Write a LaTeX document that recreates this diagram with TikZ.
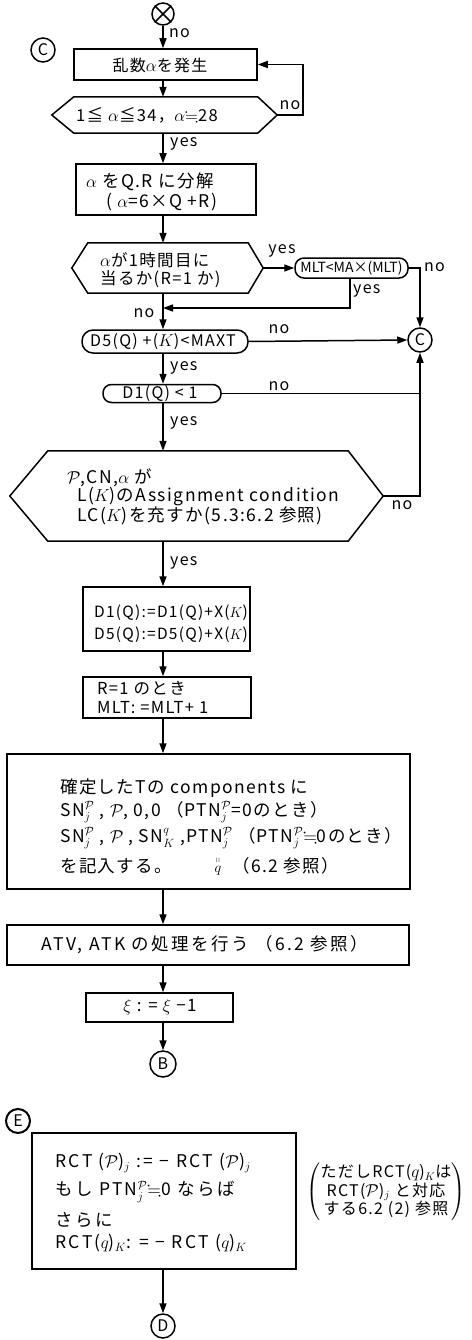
\documentclass[tikz,border=0pt]{standalone}
\usepackage{amsmath,amssymb}
\usepackage{fontspec}
\setmainfont{Noto Sans CJK JP}[LetterSpace=8]
\usetikzlibrary{arrows.meta}
\newcommand{\cP}{\mathcal{P}}
\newcommand{\apeq}{$\fallingdotseq$}
\begin{document}
\begin{tikzpicture}[x=1pt,y=-1pt]
\tikzset{
  ln/.style={line width=1.5pt},
  arr/.style={ln,-{Triangle[length=10pt,width=7pt]}},
  shp/.style={draw,ln,inner sep=0pt},
  conn/.style={draw,ln,circle,inner sep=0pt,minimum size=24pt,font=\fontsize{16}{16}\selectfont},
  tx/.style={inner sep=0pt,font=\fontsize{#1}{#1}\selectfont},
  tx/.default=16,
  tw/.style={tx=#1,anchor=west},
  tw/.default=16,
  lab/.style={inner sep=0pt,font=\fontsize{16}{16}\selectfont},
}
\useasboundingbox (0,0) rectangle (471,1340);

% start / connectors
\node[conn,minimum size=22pt] (top) at (163,14) {};
\draw[ln] (top.north west) -- (top.south east) (top.north east) -- (top.south west);
\node[conn] (cl) at (43,50) {C};

% box1
\node[shp,minimum width=183pt,minimum height=31pt] (b1) at (165.5,64.5) {};
\node[tx=16] (b1t) at (160,65) {乱数$\alpha$を発生};

% hex1
\node[minimum width=183.5pt,minimum height=36pt,inner sep=0pt] (h1) at (165.75,115) {};
\coordinate (h1L) at ([xshift=-22pt]h1.west);
\coordinate (h1R) at ([xshift=19.5pt]h1.east);
\draw[ln] (h1.north west) -- (h1.north east) -- (h1R) -- (h1.south east) -- (h1.south west) -- (h1L) -- cycle;
\node[tw=16.5] (h1t) at (76,115) {1≦ $\alpha$≦34，$\alpha$\apeq 28};

% box2
\node[shp,minimum width=180pt,minimum height=51pt] (b2) at (166,189.5) {};
\node[tw=17.5] (b2t1) at (86,182) {$\alpha$ をQ.R に分解};
\node[tw=17.5] (b2t2) at (106,202) {( $\alpha$=6×Q +R)};

% hex2
\node[minimum width=160pt,minimum height=50pt,inner sep=0pt] (h2) at (168,268) {};
\coordinate (h2L) at ([xshift=-16pt]h2.west);
\coordinate (h2R) at ([xshift=15pt]h2.east);
\draw[ln] (h2.north west) -- (h2.north east) -- (h2R) -- (h2.south east) -- (h2.south west) -- (h2L) -- cycle;
\node[tw=16.5] (h2t1) at (100,260) {$\alpha$が1時間目に};
\node[tw=16.5] (h2t2) at (100,279) {当るか(R=1 か)};

% MLT test
\node[shp,rounded corners=9pt,minimum width=113pt,minimum height=20pt,font=\fontsize{14}{14}\selectfont] (mlt) at (351.5,268) {\addfontfeature{LetterSpace=0}MLT<MA×(MLT)};

% D5 test
\node[shp,rounded corners=11pt,minimum width=166pt,minimum height=23pt] (d5) at (165,341.5) {};
\node[tx=16] (d5t) at (163,341.5) {D5(Q) +($K$)<MAXT};

% right connector C
\node[conn] (cr) at (420,340) {C};

% D1 test
\node[shp,rounded corners=8.5pt,minimum width=118pt,minimum height=18pt] (d1) at (162,393.5) {};
\node[tx=16] (d1t) at (160,393.5) {D1(Q) < 1};

% hex3
\node[minimum width=300pt,minimum height=90pt,inner sep=0pt] (h3) at (198,496) {};
\coordinate (h3L) at ([xshift=-38pt]h3.west);
\coordinate (h3R) at ([xshift=35pt]h3.east);
\draw[ln] (h3.north west) -- (h3.north east) -- (h3R) -- (h3.south east) -- (h3.south west) -- (h3L) -- cycle;
\node[tw=17.5] (h3t1) at (67,478) {$\cP$,CN,$\alpha$ が};
\node[tw=17.5] (h3t2) at (77,497) {L($K$)のAssignment condition};
\node[tw=17.5] (h3t3) at (77,516) {LC($K$)を充すか(5.3:6.2 参照)};

% box4
\node[shp,minimum width=167pt,minimum height=64pt] (b4) at (166.5,619) {};
\node[tw=15.5] (b4t1) at (94,613) {D1(Q):=D1(Q)+X($K$)};
\node[tw=15.5] (b4t2) at (94,635) {D5(Q):=D5(Q)+X($K$)};

% box5
\node[shp,minimum width=168pt,minimum height=41pt] (b5) at (167,697.5) {};
\node[tw=16.5] (b5t1) at (97,688) {R=1 のとき};
\node[tw=16.5] (b5t2) at (97,708) {MLT: =MLT+ 1};

% box6
\node[shp,minimum width=403pt,minimum height=135pt] (b6) at (208.5,821.5) {};
\node[tw=17.5] (b6t1) at (60,788) {確定したTの components に};
\node[tw=17.5] (b6t2) at (60,812) {SN$^{\cP}_j$ , $\cP$, 0,0 （PTN$^{\cP}_j$=0のとき）};
\node[tw=17.5] (b6t3) at (60,838) {SN$^{\cP}_j$ , $\cP$ , SN$^{q}_K$ ,PTN$^{\cP}_j$ （PTN$^{\cP}_j$\apeq 0のとき）};
\node[tw=17.5] (b6t4) at (60,866) {を記入する。};
\node[tx=15] (b6q) at (218,865) {$\overset{\shortparallel}{q}$};
\node[tw=17.5] (b6t5) at (232,866) {（6.2 参照）};

% box7
\node[shp,minimum width=402pt,minimum height=40pt] (b7) at (208,945) {};
\node[tx=17.5] (b7t) at (205,945) {\addfontfeature{LetterSpace=14}ATV, ATK の処理を行う （6.2 参照）};

% box8
\node[shp,minimum width=147pt,minimum height=29pt] (b8) at (159.5,1007.5) {};
\node[tx=17] (b8t) at (160,1007.5) {$\xi$ : = $\xi$ −1};

% B
\node[conn,minimum size=26pt] (cb) at (163,1064) {B};

% E
\node[conn,minimum size=24pt,line width=2pt] (ce) at (18,1121) {E};

% box9
\node[shp,minimum width=264pt,minimum height=136pt] (b9) at (164,1201) {};
\node[tw=17.5] (b9t1) at (55,1163) {\addfontfeature{LetterSpace=14}RCT ($\cP$)$_j$ := − RCT ($\cP$)$_j$};
\node[tw=17.5] (b9t2) at (55,1192) {\addfontfeature{LetterSpace=14}もし PTN$^{\cP}_j$\apeq 0 ならば};
\node[tw=17.5] (b9t3) at (55,1220) {\addfontfeature{LetterSpace=14}さらに};
\node[tw=17.5] (b9t4) at (55,1243) {\addfontfeature{LetterSpace=14}RCT($q$)$_K$: = − RCT ($q$)$_K$};

% note
\node[tx=16] (note) at (386,1192) {$\left(\begin{tabular}{@{}c@{}}ただしRCT($q$)$_K$は\\RCT($\cP$)$_j$ と対応\\する6.2 (2) 参照\end{tabular}\right)$};

% D
\node[conn] (cd) at (163,1326) {D};

% ---------- connectors
\draw[arr] (top.south) -- (top.south |- b1.north);
\node[lab,anchor=west] (no0) at (169,33) {no};
\draw[arr] (top.south |- b1.south) -- (top.south |- h1.north);
\draw[arr] (h1R) -- ++(26,0) |- (b1.east);
\node[lab] (no1) at (290,105) {no};
\draw[arr] (top.south |- h1.south) -- (top.south |- b2.north);
\node[lab,anchor=west] (yes1) at (170,144) {yes};
\draw[arr] (top.south |- b2.south) -- (top.south |- h2.north);
\draw[arr] (h2R) -- (mlt.west);
\node[lab] (yes2) at (282,251) {yes};
\draw[arr] (mlt.east) -| (cr.north);
\node[lab,anchor=west] (no2) at (424,267) {no};
\coordinate (j1) at (163,308);
\draw[arr] ([xshift=-1.5pt]mlt.south) |- (j1);
\node[lab,anchor=west] (yes3) at (353,291) {yes};
\draw[arr] (top.south |- h2.south) -- (top.south |- d5.north);
\node[lab] (no3) at (144,313) {no};
\draw[arr] (d5.east) -- (cr.west);
\node[lab] (no4) at (279,329) {no};
\draw[arr] (top.south |- d5.south) -- (top.south |- d1.north);
\node[lab,anchor=west] (yes4) at (170,368) {yes};
\coordinate (j2) at (cr.south |- d1.east);
\draw[ln] (d1.east) -- (j2);
\node[lab] (no5) at (279,386) {no};
\draw[arr] (h3R) -| (cr.south);
\node[lab] (no6) at (402,505) {no};
\draw[arr] (top.south |- d1.south) -- (top.south |- h3.north);
\node[lab,anchor=west] (yes5) at (170,423) {yes};
\draw[arr] (top.south |- h3.south) -- (top.south |- b4.north);
\node[lab,anchor=west] (yes6) at (170,563) {yes};
\draw[arr] (top.south |- b4.south) -- (top.south |- b5.north);
\draw[arr] (top.south |- b5.south) -- (top.south |- b6.north);
\draw[arr] (top.south |- b6.south) -- (top.south |- b7.north);
\draw[arr] (top.south |- b7.south) -- (top.south |- b8.north);
\draw[arr] (top.south |- b8.south) -- (cb.north);
\draw[arr] (top.south |- b9.south) -- (cd.north);
\end{tikzpicture}
\end{document}
